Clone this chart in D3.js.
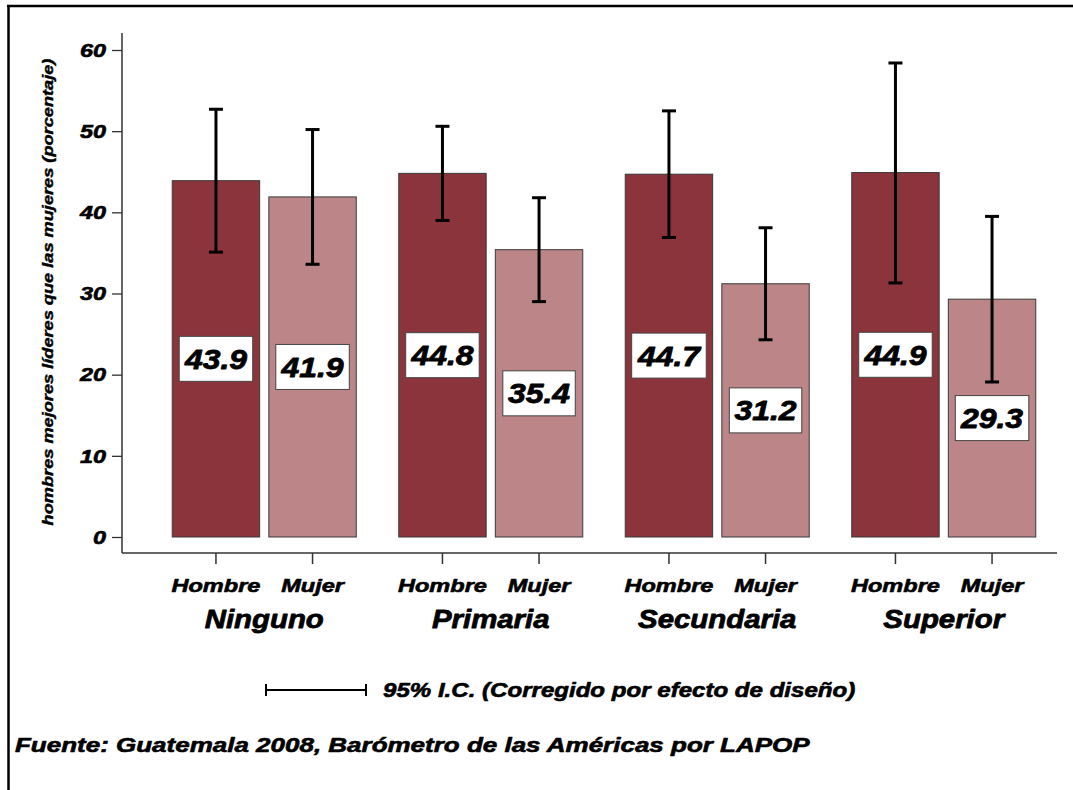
<!DOCTYPE html>
<html><head><meta charset="utf-8">
<script src="https://cdn.jsdelivr.net/npm/d3@7"></script>
<style>
html,body{margin:0;padding:0;background:#fff;}
svg{display:block;}
text{font-family:"Liberation Sans",Arial,sans-serif;font-weight:bold;font-style:italic;fill:#000;stroke:#000;stroke-linejoin:round;}
</style></head>
<body>
<script>
const groups = ["Ninguno","Primaria","Secundaria","Superior"];
const sexes = ["Hombre","Mujer"];
const hombre = [43.9,44.8,44.7,44.9];
const mujer = [41.9,35.4,31.2,29.3];
const hombreLo = [35.1,39.0,36.9,31.3];
const hombreHi = [52.7,50.6,52.5,58.4];
const mujerLo = [33.6,29.0,24.3,19.1];
const mujerHi = [50.2,41.8,38.1,39.5];
const yTicks = [0,10,20,30,40,50,60];
const yLabel = "hombres mejores líderes que las  mujeres (porcentaje)";
const legendText = "95% I.C. (Corregido por efecto de diseño)";
const sourceText = "Fuente: Guatemala 2008, Barómetro de las Américas por LAPOP";

const rows = [];
groups.forEach((g,i)=>{
  rows.push({g, s:"Hombre", v:hombre[i], lo:hombreLo[i], hi:hombreHi[i]});
  rows.push({g, s:"Mujer", v:mujer[i], lo:mujerLo[i], hi:mujerHi[i]});
});
const colors = {Hombre:"#8c343b", Mujer:"#bc8587"};

const W=1073,H=790;
const svg=d3.select("body").append("svg").attr("width",W).attr("height",H);

// frame
svg.append("line").attr("x1",7).attr("x2",1073).attr("y1",6).attr("y2",6).attr("stroke","#000").attr("stroke-width",2.5);
svg.append("line").attr("x1",8.5).attr("x2",8.5).attr("y1",5).attr("y2",790).attr("stroke","#000").attr("stroke-width",2.5);

const y=d3.scaleLinear().domain([0,60]).range([537,50]);
const x0=d3.scaleBand().domain(groups).range([151,1057]).padding(0);
const x1=d3.scaleBand().domain(sexes).range([0,x0.bandwidth()]).paddingInner(0.095).paddingOuter(0.22);

function stext(sel, x, yy, s, size, sx, sw, anchor, rot){
  return sel.append("text").attr("transform",`translate(${x},${yy})${rot?` rotate(${rot})`:""} scale(${sx},1)`)
    .attr("font-size",size).attr("stroke-width",sw).attr("text-anchor",anchor||"start").text(s);
}

// y axis
const yAxis = d3.axisLeft(y).tickValues(yTicks).tickSize(10).tickSizeOuter(0).tickFormat("");
const ya = svg.append("g").attr("transform","translate(122,0)").call(yAxis);
ya.select(".domain").remove();
ya.selectAll(".tick line").attr("stroke","#333").attr("stroke-width",1.3);
svg.append("line").attr("x1",122).attr("x2",122).attr("y1",33).attr("y2",553).attr("stroke","#333").attr("stroke-width",1.5);
yTicks.forEach(t=>{
  stext(svg, 106, y(t)+6.7, String(t), 18.6, 1.26, 0.6, "end");
});

// x axis line
svg.append("line").attr("x1",122).attr("x2",1057).attr("y1",553).attr("y2",553).attr("stroke","#333").attr("stroke-width",1.5);

// bars
const gg = svg.selectAll("g.grp").data(groups).join("g").attr("class","grp")
  .attr("transform",d=>`translate(${x0(d)},0)`);
const barsData = g => rows.filter(r=>r.g===g);
gg.selectAll("rect.bar").data(barsData).join("rect").attr("class","bar")
  .attr("x",d=>x1(d.s)).attr("width",x1.bandwidth())
  .attr("y",d=>y(d.v)).attr("height",d=>y(0)-y(d.v))
  .attr("fill",d=>colors[d.s]).attr("stroke","#3a3a3a").attr("stroke-width",1);

// error bars, ticks, category labels
gg.each(function(g){
  const sel=d3.select(this);
  barsData(g).forEach(d=>{
    const cx=x1(d.s)+x1.bandwidth()/2;
    sel.append("line").attr("x1",cx).attr("x2",cx).attr("y1",y(d.hi)).attr("y2",y(d.lo)).attr("stroke","#000").attr("stroke-width",3);
    [d.hi,d.lo].forEach(v=>sel.append("line").attr("x1",cx-7).attr("x2",cx+7).attr("y1",y(v)).attr("y2",y(v)).attr("stroke","#000").attr("stroke-width",3));
    sel.append("line").attr("x1",cx).attr("x2",cx).attr("y1",553).attr("y2",564).attr("stroke","#333").attr("stroke-width",1.5);
    stext(sel, cx, 592, d.s, 19, 1.24, 0.6, "middle");
  });
  stext(sel, x0.bandwidth()/2, 628, g, 26, 1.13, 0.8, "middle");
});

// value labels
gg.each(function(g){
  const sel=d3.select(this);
  barsData(g).forEach(d=>{
    const cx=x1(d.s)+x1.bandwidth()/2;
    const cy=y(d.v/2);
    const box=sel.append("rect");
    const sx=1.14;
    const t=stext(sel, cx, cy+10, d.v.toFixed(1), 28, sx, 0.8, "middle");
    const bb=t.node().getBBox();
    const w=bb.width*sx+10, h=45;
    box.attr("x",cx-w/2).attr("y",cy-h/2).attr("width",w).attr("height",h)
      .attr("fill","#fff").attr("stroke","#444").attr("stroke-width",1);
  });
});

// y label
stext(svg, 53, 292, yLabel, 14, 1.3, 0.4, "middle", -90);

// legend
svg.append("line").attr("x1",266).attr("x2",366).attr("y1",690).attr("y2",690).attr("stroke","#000").attr("stroke-width",2);
[266,366].forEach(xx=>svg.append("line").attr("x1",xx).attr("x2",xx).attr("y1",684).attr("y2",696).attr("stroke","#000").attr("stroke-width",2));
stext(svg, 383, 697, legendText, 19.5, 1.235, 0.6, "start");

// source
stext(svg, 15, 752, sourceText, 19.7, 1.32, 0.6, "start");
</script>
</body></html>
